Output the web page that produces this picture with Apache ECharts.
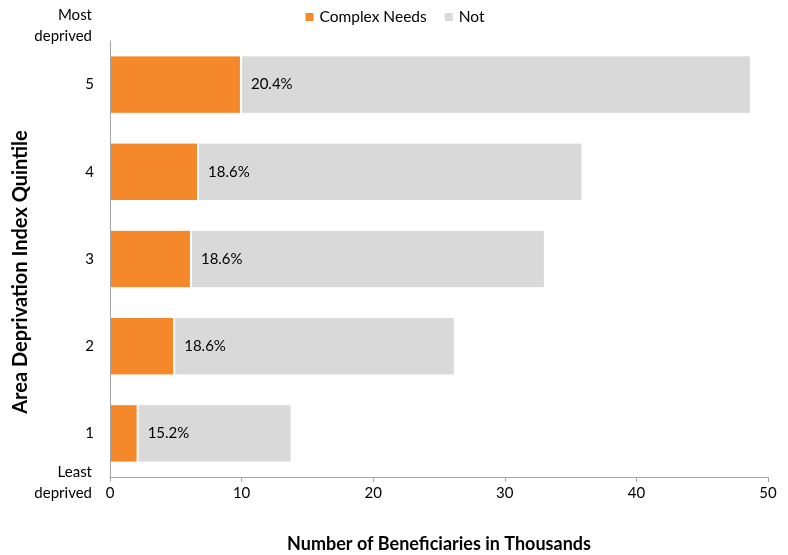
<!DOCTYPE html>
<html><head><meta charset="utf-8">
<script src="https://cdn.jsdelivr.net/npm/echarts@6/dist/echarts.min.js"></script>
<style>html,body{margin:0;padding:0;background:#fff}#c{width:788px;height:555px}</style>
</head><body><div id="c"></div>
<script>
const categories = ['1', '2', '3', '4', '5'];
const complexNeeds = [2.1, 4.88, 6.15, 6.69, 9.95];
const notComplex = [11.7, 21.32, 26.9, 29.21, 38.75];
const percentLabels = ['15.2%', '18.6%', '18.6%', '18.6%', '20.4%'];
const xTicks = [0, 10, 20, 30, 40, 50];

const FONT = 'Lato';
const chart = echarts.init(document.getElementById('c'));
chart.setOption({
  animation: false,
  textStyle: {fontFamily: FONT},
  legend: {
    top: 4, left: 'center', itemWidth: 10, itemHeight: 10, itemGap: 16,
    icon: 'rect',
    textStyle: {fontFamily: FONT, fontSize: 15.5, color: '#000'},
    data: ['Complex Needs', 'Not']
  },
  grid: {left: 110, right: 20, top: 41, bottom: 78, outerBoundsMode: 'none', containLabel: false},
  xAxis: {
    type: 'value', min: xTicks[0], max: xTicks[xTicks.length - 1], interval: 10,
    axisLine: {show: true, lineStyle: {color: '#A6A6A6'}},
    axisTick: {show: true, length: 5, lineStyle: {color: '#A6A6A6'}},
    splitLine: {show: false},
    axisLabel: {fontFamily: FONT, fontSize: 15, color: '#000', margin: 9},
    name: 'Number of Beneficiaries in Thousands',
    nameLocation: 'middle', nameGap: 58,
    nameTextStyle: {fontFamily: FONT, fontSize: 18, fontWeight: 'bold', color: '#000'}
  },
  yAxis: {
    type: 'category', data: categories, z: 5,
    axisLine: {show: true, lineStyle: {color: '#A6A6A6'}},
    axisTick: {show: false},
    axisLabel: {fontFamily: FONT, fontSize: 15, color: '#000', margin: 16}
  },
  series: [
    {
      name: 'Complex Needs', type: 'bar', stack: 'a', data: complexNeeds,
      barCategoryGap: '33%',
      itemStyle: {color: '#F5882A', borderColor: '#fff', borderWidth: 1},
      label: {
        show: true, position: 'right', distance: 10,
        formatter: p => percentLabels[p.dataIndex],
        fontFamily: FONT, fontSize: 15, color: '#000'
      },
      z: 3
    },
    {
      name: 'Not', type: 'bar', stack: 'a', data: notComplex,
      itemStyle: {color: '#D9D9D9', borderColor: '#fff', borderWidth: 1},
      z: 2
    }
  ],
  graphic: [
    {type: 'text', right: 788 - 92, top: 5, style: {text: 'Most\ndeprived', fill: '#000', font: '15px ' + FONT, textAlign: 'right', lineHeight: 21}},
    {type: 'text', right: 788 - 92, top: 462, style: {text: 'Least\ndeprived', fill: '#000', font: '15px ' + FONT, textAlign: 'right', lineHeight: 21}},
    {type: 'text', x: 21, y: 272, rotation: Math.PI / 2,
      style: {text: 'Area Deprivation Index Quintile', fill: '#000', font: 'bold 20px ' + FONT, textAlign: 'center', textVerticalAlign: 'middle'}}
  ]
});
</script></body></html>
